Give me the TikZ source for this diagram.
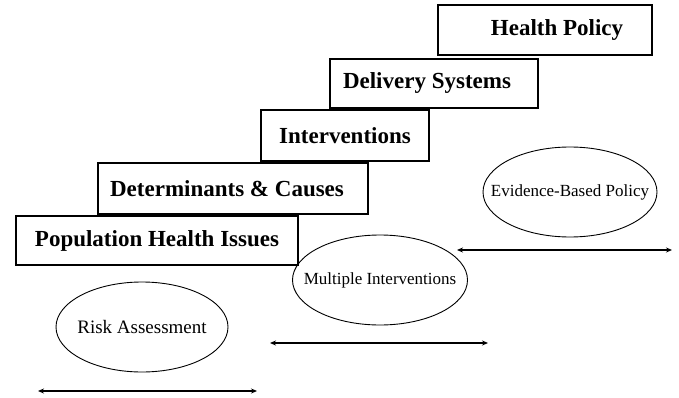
\documentclass[tikz,border=0pt]{standalone}
\usepackage{fontspec}
\setmainfont{Liberation Serif}
\usetikzlibrary{shapes.geometric,arrows.meta}
\begin{document}
\begin{tikzpicture}[x=1pt,y=-1pt,
 box/.style={draw, line width=1.3pt, rectangle, inner sep=0pt},
 lbl/.style={font=\bfseries\fontsize{23}{25}\selectfont, inner sep=0pt},
 oval/.style={draw, line width=0.9pt, ellipse, inner sep=0pt, minimum width=174pt, minimum height=90pt},
 ovaltext/.style={font=\fontsize{17}{19}\selectfont, inner sep=0pt},
 span/.style={{Stealth[length=6pt,width=5pt]}-{Stealth[length=6pt,width=5pt]}, line width=1.2pt}]
\useasboundingbox[fill=white] (0,0) rectangle (679,398);

\node[box, minimum width=282pt, minimum height=49pt, label={[lbl]center:Population Health Issues}] (pop) at (157,240.5) {};
\node[box, fill=white, minimum width=270pt, minimum height=51pt, label={[lbl, xshift=-6pt]center:Determinants \& Causes}] (det) at (233,188.5) {};
\node[box, minimum width=168pt, minimum height=51pt, label={[lbl]center:Interventions}] (int) at (345,135.5) {};
\node[box, minimum width=208pt, minimum height=49pt, label={[lbl, xshift=-7pt]center:Delivery Systems}] (del) at (434,83.5) {};
\node[box, minimum width=214pt, minimum height=50pt, label={[lbl, xshift=12pt]center:Health Policy}] (hp) at (545,30) {};

\node[oval, minimum width=172pt, label={[ovaltext, font=\fontsize{19}{21}\selectfont]center:Risk Assessment}] (risk) at (142,327) {};
\node[oval, minimum width=175pt, label={[ovaltext]center:Multiple Interventions}] (mult) at (380,280) {};
\node[oval, label={[ovaltext]center:Evidence-Based Policy}] (ebp) at (570,192) {};

\coordinate (a1) at (38,391);
\coordinate (a2) at (257,391);
\coordinate (b1) at (270,343);
\coordinate (b2) at (488,343);
\coordinate (c1) at (457,250);
\coordinate (c2) at (672,250);
\draw[span] (a1) -- (a2);
\draw[span] (b1) -- (b2);
\draw[span] (c1) -- (c2);
\end{tikzpicture}
\end{document}
